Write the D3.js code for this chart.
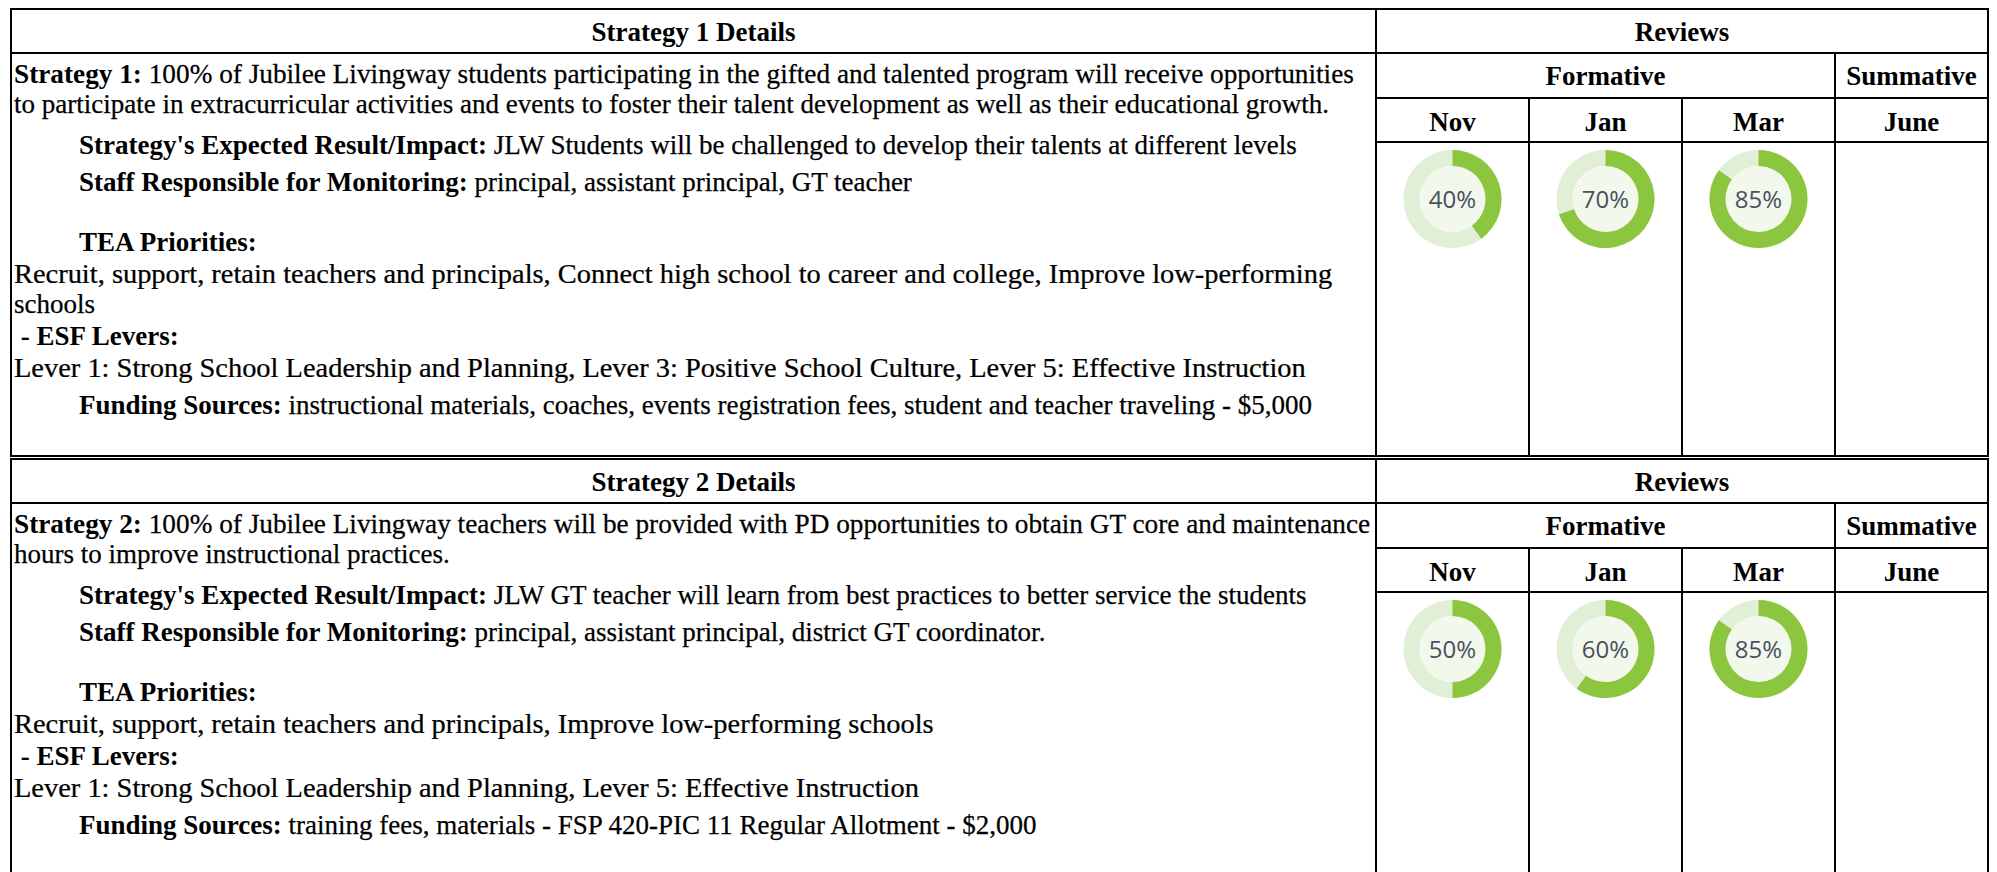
<!DOCTYPE html>
<html><head><meta charset="utf-8">
<script src="https://cdn.jsdelivr.net/npm/d3@7"></script>
<style>html,body{margin:0;padding:0;background:#fff;} svg{display:block;}</style>
</head><body><svg id="c" width="1997" height="872"></svg>
<script>
// ---------------- data ----------------
const sectionTitles = ["Strategy 1 Details", "Strategy 2 Details"];
const reviewTitle = "Reviews";
const reviewGroups = ["Formative", "Summative"];
const months = ["Nov", "Jan", "Mar", "June"];
const monthGroup = ["Formative", "Formative", "Formative", "Summative"];
const progressStrategy1 = [40, 70, 85, null];
const progressStrategy2 = [50, 60, 85, null];

const strategy1Lines = [
  {type: "title", bold: "Strategy 1:", text: " 100% of Jubilee Livingway students participating in the gifted and talented program will receive opportunities"},
  {type: "cont", bold: "", text: "to participate in extracurricular activities and events to foster their talent development as well as their educational growth."},
  {type: "field", bold: "Strategy's Expected Result/Impact:", text: " JLW Students will be challenged to develop their talents at different levels"},
  {type: "field", bold: "Staff Responsible for Monitoring:", text: " principal, assistant principal, GT teacher"},
  {type: "heading", bold: "TEA Priorities:", text: ""},
  {type: "text", bold: "", text: "Recruit, support, retain teachers and principals, Connect high school to career and college, Improve low-performing"},
  {type: "cont", bold: "", text: "schools"},
  {type: "sub", bold: " - ESF Levers:", text: ""},
  {type: "text", bold: "", text: "Lever 1: Strong School Leadership and Planning, Lever 3: Positive School Culture, Lever 5: Effective Instruction"},
  {type: "field", bold: "Funding Sources:", text: " instructional materials, coaches, events registration fees, student and teacher traveling - $5,000"}
];
const strategy2Lines = [
  {type: "title", bold: "Strategy 2:", text: " 100% of Jubilee Livingway teachers will be provided with PD opportunities to obtain GT core and maintenance"},
  {type: "cont", bold: "", text: "hours to improve instructional practices."},
  {type: "field", bold: "Strategy's Expected Result/Impact:", text: " JLW GT teacher will learn from best practices to better service the students"},
  {type: "field", bold: "Staff Responsible for Monitoring:", text: " principal, assistant principal, district GT coordinator."},
  {type: "heading", bold: "TEA Priorities:", text: ""},
  {type: "text", bold: "", text: "Recruit, support, retain teachers and principals, Improve low-performing schools"},
  {type: "sub", bold: " - ESF Levers:", text: ""},
  {type: "text", bold: "", text: "Lever 1: Strong School Leadership and Planning, Lever 5: Effective Instruction"},
  {type: "field", bold: "Funding Sources:", text: " training fees, materials - FSP 420-PIC 11 Regular Allotment - $2,000"}
];

const sections = [
  {title: sectionTitles[0], lines: strategy1Lines, progress: progressStrategy1},
  {title: sectionTitles[1], lines: strategy2Lines, progress: progressStrategy2}
];

// ---------------- layout ----------------
const W = 1997, H = 872;
const svg = d3.select("#c");
svg.append("rect").attr("width", W).attr("height", H).attr("fill", "#fff");

const leftX = 11, divX = 1376, rightX = 1988;
const sectionTop = d3.scaleOrdinal().domain([0, 1]).range([9, 459]);
const sectionBottom = [456, 900];
const colX = d3.scaleBand().domain(months).range([divX, rightX]);
const pct = d3.scaleLinear().domain([0, 100]).range([0, 2 * Math.PI]);

const serif = "'Liberation Serif', 'Times New Roman', Times, serif";
const BODY = 27, HEAD = 27;
const LW = 2;

function gapFor(prev, cur) {
  if (!prev) return 74;
  if (cur.type === "cont") return prev.type === "title" ? 29.5 : 30;
  if (cur.type === "field") return prev.type === "cont" ? 41 : 37;
  if (cur.type === "heading") return 60;
  return 32;
}
const indentX = t => (t === "field" || t === "heading") ? 79 : 14;
const stretchX = t => t === "text" ? 1.053 : (t === "title" ? 1.01 : 1);

sections.forEach((sec, si) => {
  const T = sectionTop(si), B = sectionBottom[si];
  const g = svg.append("g");
  const line = (x1, y1, x2, y2) => g.append("line").attr("x1", x1).attr("y1", y1).attr("x2", x2).attr("y2", y2)
      .attr("stroke", "#000").attr("stroke-width", LW).attr("shape-rendering", "crispEdges");

  // horizontal rules
  line(leftX - 1, T, rightX + 1, T);
  line(leftX - 1, T + 44, rightX + 1, T + 44);
  line(divX, T + 89, rightX + 1, T + 89);
  line(divX, T + 133, rightX + 1, T + 133);
  if (si === 0) line(leftX - 1, B, rightX + 1, B);
  // vertical rules
  line(leftX, T, leftX, B);
  line(divX, T, divX, B);
  line(rightX, T, rightX, B);
  line(colX("June"), T + 44, colX("June"), B);
  line(colX("Jan"), T + 89, colX("Jan"), B);
  line(colX("Mar"), T + 89, colX("Mar"), B);

  // headers
  const head = (x, y, s) => g.append("text").attr("x", x).attr("y", y).attr("text-anchor", "middle")
      .attr("font-family", serif).attr("font-weight", "bold").attr("font-size", HEAD).attr("fill", "#000").text(s);
  head((leftX + divX) / 2, T + 32, sec.title);
  head((divX + rightX) / 2, T + 32, reviewTitle);
  reviewGroups.forEach(grp => {
    const cols = months.filter((m, i) => monthGroup[i] === grp);
    const x0 = colX(cols[0]), x1 = colX(cols[cols.length - 1]) + colX.bandwidth();
    head((x0 + x1) / 2, T + 76, grp);
  });
  months.forEach(m => head(colX(m) + colX.bandwidth() / 2, T + 122, m));

  // body text
  let y = T, prev = null;
  sec.lines.forEach(ln => {
    y += gapFor(prev, ln);
    const t = g.append("text")
      .attr("transform", `translate(${indentX(ln.type)},${y}) scale(${stretchX(ln.type)},1)`)
      .attr("font-family", serif).attr("font-size", BODY).attr("fill", "#000")
      .attr("xml:space", "preserve").style("white-space", "pre");
    if (ln.bold) t.append("tspan").attr("font-weight", "bold").text(ln.bold);
    if (ln.text) t.append("tspan").attr("stroke", "#000").attr("stroke-width", 0.25).text(ln.text);
    prev = ln;
  });

  // donuts
  const cy = T + 190, R = 49, r = 33;
  const arcOuter = d3.arc().innerRadius(r).outerRadius(R);
  sec.progress.forEach((v, i) => {
    if (v === null) return;
    const cx = colX(months[i]) + colX.bandwidth() / 2;
    const dg = g.append("g").attr("transform", `translate(${cx},${cy})`);
    dg.append("path").attr("d", arcOuter({startAngle: 0, endAngle: 2 * Math.PI})).attr("fill", "#e1efd6");
    dg.append("circle").attr("r", r).attr("fill", "#f2f8ec");
    dg.append("path").attr("d", arcOuter({startAngle: 0, endAngle: pct(v)})).attr("fill", "#8cc63f");
    dg.append("text").attr("text-anchor", "middle").attr("dy", "0.36em")
      .attr("font-family", "'Open Sans', 'Noto Sans', sans-serif").attr("font-size", 24)
      .attr("fill", "#4a5060").text(v + "%");
  });
});
</script></body></html>
